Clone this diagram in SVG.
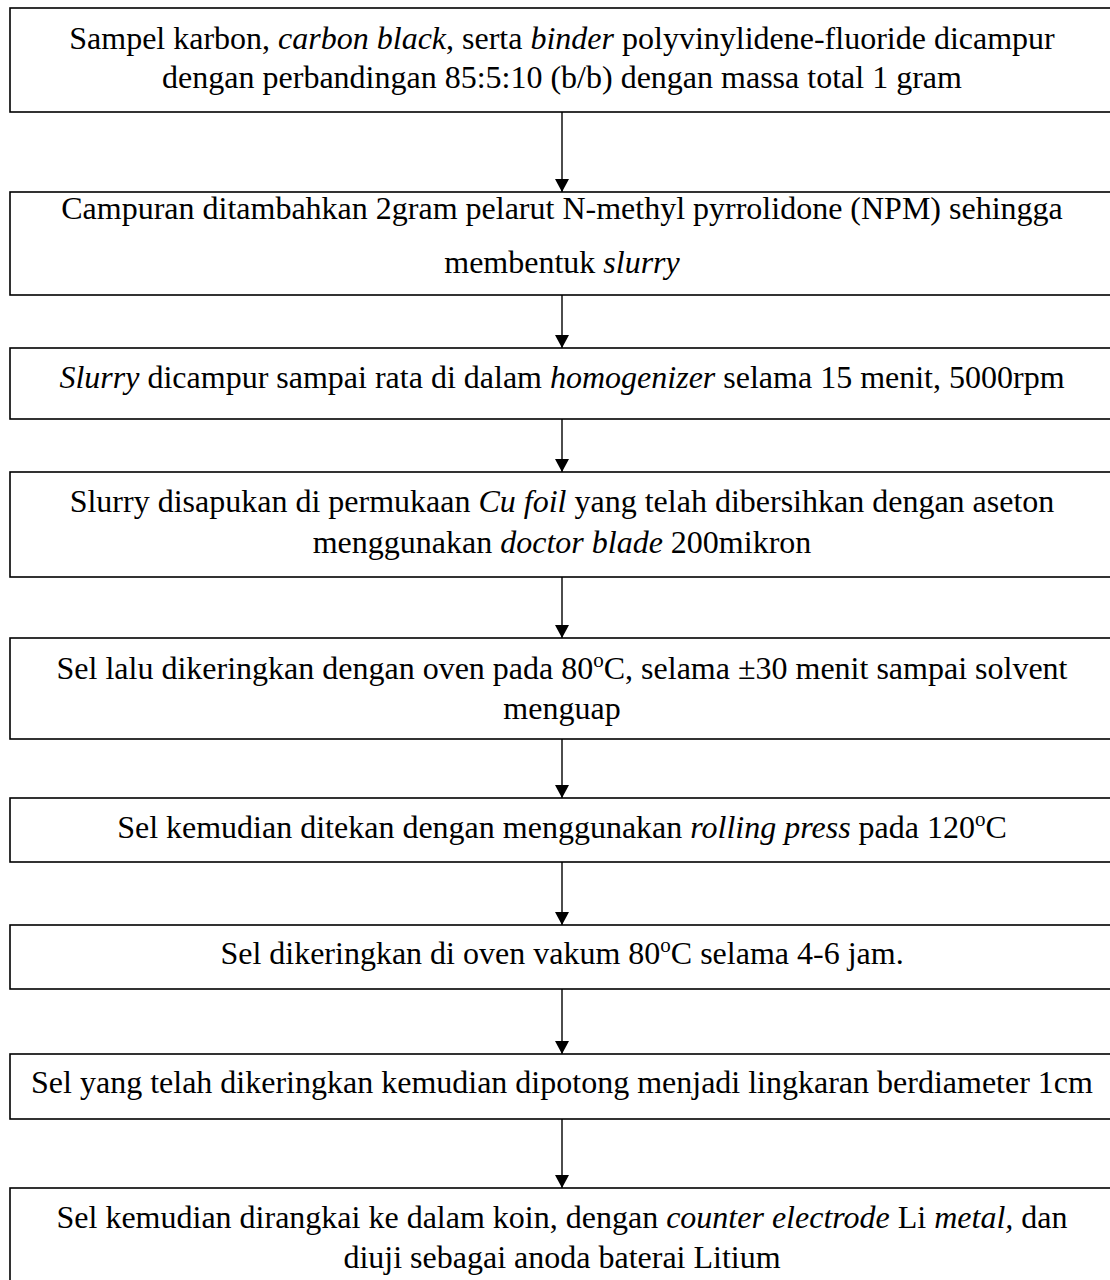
<svg xmlns="http://www.w3.org/2000/svg" width="1110" height="1280" viewBox="0 0 1110 1280">
<style>
.box{fill:#fff;stroke:#000;stroke-width:1.6}
.t{font-family:"Liberation Serif","Times New Roman",serif;font-size:32px;fill:#000;text-anchor:middle}
.i{font-style:italic}
.conn line{stroke:#000;stroke-width:1.4;marker-end:url(#arr)}
</style>
<defs>
<marker id="arr" markerUnits="userSpaceOnUse" markerWidth="14" markerHeight="14" refX="13" refY="7" orient="auto">
<path d="M0,0 L13,7 L0,14 z" fill="#000"/>
</marker>
</defs>
<rect width="1110" height="1280" fill="#fff"/>
<g id="n1">
<rect class="box" x="10" y="8" width="1104" height="104"/>
<text class="t" x="562" y="49">Sampel karbon, <tspan class="i">carbon black</tspan>, serta <tspan class="i">binder</tspan> polyvinylidene-fluoride dicampur</text>
<text class="t" x="562" y="88">dengan perbandingan 85:5:10 (b/b) dengan massa total 1 gram</text>
</g>
<g id="n2">
<rect class="box" x="10" y="192" width="1104" height="103"/>
<text class="t" x="562" y="219">Campuran ditambahkan 2gram pelarut N-methyl pyrrolidone (NPM) sehingga</text>
<text class="t" x="562" y="273">membentuk <tspan class="i">slurry</tspan></text>
</g>
<g id="n3">
<rect class="box" x="10" y="348" width="1104" height="71"/>
<text class="t" x="562" y="388"><tspan class="i">Slurry</tspan> dicampur sampai rata di dalam <tspan class="i">homogenizer</tspan> selama 15 menit, 5000rpm</text>
</g>
<g id="n4">
<rect class="box" x="10" y="472" width="1104" height="105"/>
<text class="t" x="562" y="512">Slurry disapukan di permukaan <tspan class="i">Cu foil</tspan> yang telah dibersihkan dengan aseton</text>
<text class="t" x="562" y="553">menggunakan <tspan class="i">doctor blade</tspan> 200mikron</text>
</g>
<g id="n5">
<rect class="box" x="10" y="638" width="1104" height="101"/>
<text class="t" x="562" y="679">Sel lalu dikeringkan dengan oven pada 80<tspan font-size="21" dy="-12">o</tspan><tspan dy="12">C, selama ±30 menit sampai solvent</tspan></text>
<text class="t" x="562" y="719">menguap</text>
</g>
<g id="n6">
<rect class="box" x="10" y="798" width="1104" height="64"/>
<text class="t" x="562" y="838">Sel kemudian ditekan dengan menggunakan <tspan class="i">rolling press</tspan> pada 120<tspan font-size="21" dy="-12">o</tspan><tspan dy="12">C</tspan></text>
</g>
<g id="n7">
<rect class="box" x="10" y="925" width="1104" height="64"/>
<text class="t" x="562" y="964">Sel dikeringkan di oven vakum 80<tspan font-size="21" dy="-12">o</tspan><tspan dy="12">C selama 4-6 jam.</tspan></text>
</g>
<g id="n8">
<rect class="box" x="10" y="1054" width="1104" height="65"/>
<text class="t" x="562" y="1093">Sel yang telah dikeringkan kemudian dipotong menjadi lingkaran berdiameter 1cm</text>
</g>
<g id="n9">
<rect class="box" x="10" y="1188" width="1104" height="110"/>
<text class="t" x="562" y="1228">Sel kemudian dirangkai ke dalam koin, dengan <tspan class="i">counter electrode</tspan> Li <tspan class="i">metal,</tspan> dan</text>
<text class="t" x="562" y="1268">diuji sebagai anoda baterai Litium</text>
</g>
<g id="connectors" class="conn">
<line x1="562" y1="112" x2="562" y2="192"/>
<line x1="562" y1="295" x2="562" y2="348"/>
<line x1="562" y1="419" x2="562" y2="472"/>
<line x1="562" y1="577" x2="562" y2="638"/>
<line x1="562" y1="739" x2="562" y2="798"/>
<line x1="562" y1="862" x2="562" y2="925"/>
<line x1="562" y1="989" x2="562" y2="1054"/>
<line x1="562" y1="1119" x2="562" y2="1188"/>
</g>
</svg>
